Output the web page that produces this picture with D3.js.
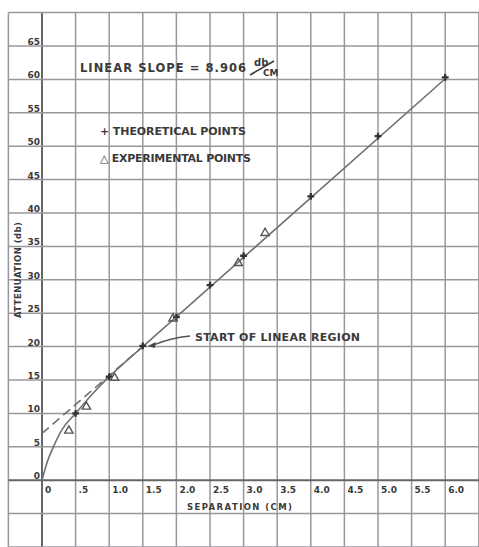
<!DOCTYPE html>
<html><head><meta charset="utf-8">
<script src="https://cdn.jsdelivr.net/npm/d3@7"></script>
<style>
html,body{margin:0;padding:0;background:#fff;}
svg{display:block;}
text{font-family:"DejaVu Sans","Liberation Sans",sans-serif;font-weight:bold;fill:#3a3a3a;}
</style></head>
<body>
<script>
// ---- data ----
const xTicks = [0,0.5,1.0,1.5,2.0,2.5,3.0,3.5,4.0,4.5,5.0,5.5,6.0];
const xTickLabels = ["0",".5","1.0","1.5","2.0","2.5","3.0","3.5","4.0","4.5","5.0","5.5","6.0"];
const yTicks = [0,5,10,15,20,25,30,35,40,45,50,55,60,65];
const theoX = [0.5,1.0,1.5,2.0,2.5,3.0,4.0,5.0,6.0];
const theoY = [10,15.5,20.1,24.4,29.2,33.6,42.5,51.5,60.3];
const expX = [0.4,0.66,1.08,1.95,2.92,3.32];
const expY = [7.4,11.0,15.3,24.2,32.5,37.0];
const curveX = [0,0.08,0.17,0.3,0.5,0.75,1.0,1.25,1.5,6.0];
const curveY = [0,2.8,5.0,7.6,10.0,12.9,15.5,17.8,20.0,60.1];
const dashX = [0,1.5];
const dashY = [7.0,20.0];
const annStart = {x:1.5, y:20.1, label:"START OF LINEAR REGION"};

const W=479,H=547;
const svg=d3.select("body").append("svg").attr("width",W).attr("height",H);
const x=d3.scaleLinear().domain([-0.5,6.5]).range([8.4,478.8]);
const y=d3.scaleLinear().domain([-10,70]).range([547,12.6]);

// grid
const gx=d3.range(-0.5,6.51,0.5), gy=d3.range(-10,70.1,5);
svg.append("g").selectAll("line").data(gx).join("line")
  .attr("x1",d=>x(d)).attr("x2",d=>x(d)).attr("y1",y(70)).attr("y2",H)
  .attr("stroke",d=>d===0?"#666":"#9a979c").attr("stroke-width",d=>d===0?2:1.5);
svg.append("g").selectAll("line").data(gy).join("line")
  .attr("y1",d=>y(d)).attr("y2",d=>y(d)).attr("x1",x(-0.5)).attr("x2",W)
  .attr("stroke",d=>d===0?"#666":"#9a979c").attr("stroke-width",d=>d===0?2:1.5);

// tick labels
svg.append("g").selectAll("text").data(xTicks).join("text")
  .attr("x",d=>x(d)+3).attr("y",y(0)+13).attr("font-size",9)
  .text((d,i)=>xTickLabels[i]);
svg.append("g").selectAll("text").data(yTicks).join("text")
  .attr("x",x(0)-2).attr("y",d=>y(d)-1).attr("font-size",9).attr("text-anchor","end")
  .text(d=>d);

// axis titles
svg.append("text").attr("x",187).attr("y",510).attr("font-size",8.5)
  .attr("textLength",105).attr("lengthAdjust","spacing").text("SEPARATION (CM)");
svg.append("text").attr("transform","translate(21,318) rotate(-90)").attr("font-size",8.5)
  .attr("textLength",96).attr("lengthAdjust","spacing").text("ATTENUATION (db)");

// curve
const pts=curveX.map((v,i)=>[v,curveY[i]]);
svg.append("path").attr("d",d3.line().x(d=>x(d[0])).y(d=>y(d[1])).curve(d3.curveMonotoneX)(pts))
  .attr("fill","none").attr("stroke","#707070").attr("stroke-width",1.6);
const dpts=dashX.map((v,i)=>[v,dashY[i]]);
svg.append("path").attr("d",d3.line().x(d=>x(d[0])).y(d=>y(d[1]))(dpts))
  .attr("fill","none").attr("stroke","#707070").attr("stroke-width",1.6).attr("stroke-dasharray","9,5");

// markers
svg.append("g").selectAll("path").data(theoX.map((v,i)=>[v,theoY[i]])).join("path")
  .attr("d",d3.symbol(d3.symbolCross,26)())
  .attr("transform",d=>`translate(${x(d[0])},${y(d[1])})`).attr("fill","#333");
svg.append("g").selectAll("path").data(expX.map((v,i)=>[v,expY[i]])).join("path")
  .attr("d",d3.symbol(d3.symbolTriangle,30)())
  .attr("transform",d=>`translate(${x(d[0])},${y(d[1])})`).attr("fill","none")
  .attr("stroke","#555").attr("stroke-width",1.4);

// annotation text
svg.append("text").attr("x",80).attr("y",72).attr("font-size",11.5)
  .attr("textLength",166).attr("lengthAdjust","spacing").text("LINEAR SLOPE = 8.906");
svg.append("text").attr("x",254).attr("y",66).attr("font-size",10).text("db");
svg.append("line").attr("x1",250).attr("y1",75).attr("x2",274).attr("y2",61).attr("stroke","#3a3a3a").attr("stroke-width",1.6);
svg.append("text").attr("x",263).attr("y",76).attr("font-size",9).text("CM");
svg.append("text").attr("x",100).attr("y",135).attr("font-size",11)
  .attr("textLength",146).attr("lengthAdjust","spacing").text("+ THEORETICAL POINTS");
svg.append("text").attr("x",100).attr("y",162).attr("font-size",11)
  .attr("textLength",151).attr("lengthAdjust","spacing").text("\u25B3 EXPERIMENTAL POINTS");
svg.append("text").attr("x",195).attr("y",341).attr("font-size",11)
  .attr("textLength",165).attr("lengthAdjust","spacing").text(annStart.label);

// arrow
const ax=x(annStart.x)+5, ay=y(annStart.y);
svg.append("path").attr("d",`M190,336 Q170,338 ${ax+6},${ay-1}`).attr("fill","none").attr("stroke","#555").attr("stroke-width",1.4);
svg.append("path").attr("d",`M${ax},${ay} l8,-4 l-1,6 z`).attr("fill","#444");
</script>
</body></html>
